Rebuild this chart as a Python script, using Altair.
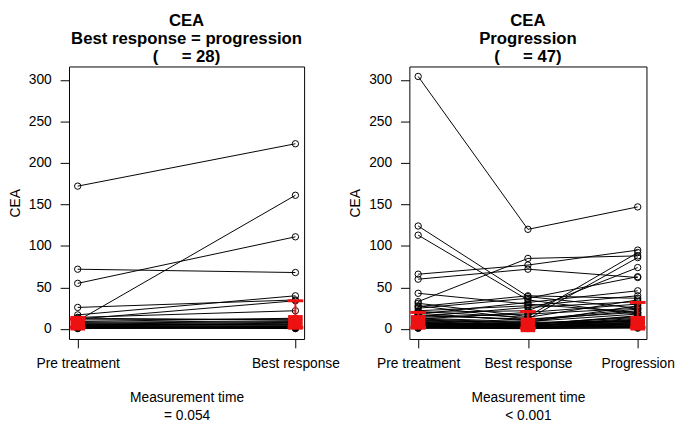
import altair as alt
import pandas as pd

# ---------------- data ----------------
left_times = ["Pre treatment", "Best response"]
right_times = ["Pre treatment", "Best response", "Progression"]

NB = "\u00a0"
left_titles = ["CEA", "Best response = progression", "(" + NB * 5 + "= 28)"]
right_titles = ["CEA", "Progression", "(" + NB * 5 + "= 47)"]
left_p = "= 0.054"
right_p = "< 0.001"

y_ticks = [0, 50, 100, 150, 200, 250, 300]

left_pre = [172, 72, 55, 10, 26, 17, 12, 14, 9, 8, 6, 5, 4, 3, 2, 1.5, 1, 11, 7, 5, 4, 3, 2.5, 2, 1, 6, 13, 0.5]
left_best = [223, 68, 111, 161, 35, 40, 34, 22, 13, 10, 8, 6, 5, 4, 3, 2, 1.5, 12, 9, 7, 3, 2, 1, 0.5, 1, 5, 11, 2]

right_pre = [304, 124, 113, 66, 60, 33, 43, 31, 28, 20, 25, 18, 22, 27, 15, 12, 10, 14, 19, 8,
             5, 6, 4, 3, 7, 9, 2, 3, 11, 6, 4, 1, 2, 5, 8, 3, 13, 16, 7, 2, 1, 10, 5, 17, 21, 12, 6]
right_best = [120, 39, 35, 77, 72, 85, 30, 15, 12, 22, 37, 32, 28, 40, 26, 20, 8, 18, 10, 5,
              3, 4, 2, 6, 3, 5, 1, 2, 7, 4, 3, 1, 2, 6, 4, 2, 9, 12, 5, 1, 0.5, 6, 3, 11, 14, 8, 7]
right_prog = [147, 25, 18, 95, 62, 88, 20, 92, 86, 74, 63, 46, 40, 37, 33, 30, 28, 25, 22, 16,
              12, 10, 8, 14, 6, 7, 4, 5, 9, 3, 11, 2, 3, 5, 13, 6, 18, 20, 8, 1, 2, 15, 4, 24, 35, 10, 9]

left_center = [7, 8]
left_low = [2, 2]
left_high = [12, 34]
right_center = [8, 5, 7]
right_low = [2, 1, 2]
right_high = [20, 21, 32]

FONT = "Liberation Sans"


def long_df(series_list):
    rows = []
    for t, vals in enumerate(series_list):
        for i, v in enumerate(vals):
            rows.append({"id": i, "t": t, "v": v})
    return pd.DataFrame(rows)


def panel(series, center, low, high, labels, titles, ptext, width):
    n = len(series)
    pad = 0.04 * (n - 1)
    df = long_df(series)
    stats = pd.DataFrame({"t": list(range(n)), "c": center, "lo": low, "hi": high})
    expr = "'" + labels[-1] + "'"
    for k in range(n - 2, -1, -1):
        expr = f"datum.value == {k} ? '{labels[k]}' : " + expr

    xaxis = alt.Axis(values=list(range(n)), labelExpr=expr, title=["Measurement time", ptext],
                     labelPadding=9, titlePadding=21, titleLineHeight=18)
    yaxis = alt.Axis(values=y_ticks, title="CEA", labelPadding=9, titlePadding=6)

    def X(f):
        return alt.X(f, type="quantitative",
                     scale=alt.Scale(domain=[-pad, n - 1 + pad], nice=False, zero=False),
                     axis=xaxis)

    def Y(f):
        return alt.Y(f, type="quantitative",
                     scale=alt.Scale(domain=[-12, 316], nice=False, zero=False),
                     axis=yaxis)

    lines = alt.Chart(df).mark_line(color="black", strokeWidth=1).encode(
        x=X("t"), y=Y("v"), detail="id:N")
    pts = alt.Chart(df).mark_point(shape="circle", filled=False, color="black", size=42,
                                   strokeWidth=1, opacity=1).encode(x=X("t"), y=Y("v"))
    rule = alt.Chart(stats).mark_rule(color="#ee1111", strokeWidth=2).encode(
        x=X("t"), y=Y("lo"), y2="hi")
    caps = alt.Chart(stats).transform_fold(["lo", "hi"], as_=["k", "val"]).mark_tick(
        color="#ee1111", orient="horizontal", size=16, thickness=3, opacity=1).encode(
        x=X("t"), y=Y("val"))
    sq = alt.Chart(stats).mark_square(color="#ee1111", size=220, opacity=1).encode(
        x=X("t"), y=Y("c"))

    return alt.layer(lines, pts, rule, caps, sq).properties(
        width=width, height=277,
        title=alt.TitleParams(text=titles, fontSize=17, fontWeight="bold", font=FONT,
                              lineHeight=18, offset=1, anchor="middle", color="black"))


left = panel([left_pre, left_best], left_center, left_low, left_high, left_times,
             left_titles, left_p, 239)
right = panel([right_pre, right_best, right_prog], right_center, right_low, right_high,
              right_times, right_titles, right_p, 241)

chart = alt.hconcat(left, right, spacing=107, bounds="flush").configure_view(
    stroke="black", strokeWidth=1
).configure_axis(
    labelFont=FONT, labelFontSize=14, labelColor="black", titleFont=FONT, titleFontSize=14,
    titleFontWeight="normal", titleColor="black", domain=False, tickColor="black",
    tickSize=9, grid=False, labelAngle=0, labelOverlap=False, labelFlush=False
).properties(background="white", padding={"left": 0, "top": 0, "right": 0, "bottom": 0})

chart.save("out.html", embed_options={"renderer": "svg", "actions": False})
